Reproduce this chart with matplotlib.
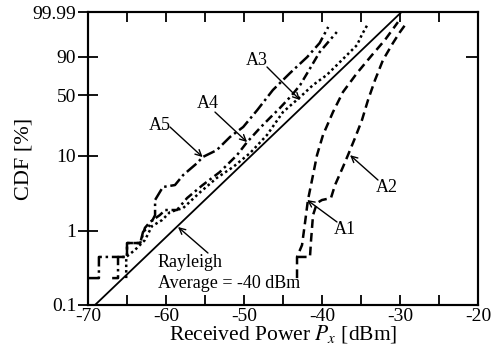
import numpy as np
import matplotlib
matplotlib.use("Agg")
import matplotlib.pyplot as plt
from matplotlib.ticker import FixedLocator, FixedFormatter, NullLocator

plt.rcParams['font.family'] = ['Liberation Serif', 'DejaVu Serif']
plt.rcParams['mathtext.fontset'] = 'stix'
plt.rcParams['axes.unicode_minus'] = False

# ---- data (x: dBm, y: CDF %) ----
rayleigh_x = [-69.1, -29.8]
rayleigh_p = [0.1, 99.99]

a1_x = [-43.2, -43.2, -42.56, -42.18, -41.8, -41.15, -40.64, -39.87, -38.59, -37.31, -35.51, -33.59, -31.92, -30.26]
a1_p = [0.231, 0.446, 0.645, 1.28, 2.6, 5.57, 10.1, 18.1, 33.5, 53.3, 74.7, 91.0, 97.9, 99.88]

a2_x = [-43.1, -41.54, -41.4, -41.15, -40.64, -40.0, -38.85, -38.33, -37.31, -36.67, -35.77, -34.87, -34.1, -33.2, -32.18, -30.9, -30.0, -29.36]
a2_p = [0.446, 0.446, 0.753, 1.63, 2.37, 2.6, 2.76, 4.11, 7.1, 10.1, 16.6, 27.3, 44.7, 66.9, 87.3, 97.0, 99.28, 99.78]

a3_x = [-65.1, -65.1, -64.0, -62.7, -61.8, -60.5, -59.5, -57.8, -55.6, -53.5, -51.4, -49.2, -47.05, -45.0, -42.8, -41.15, -39.4, -37.7, -35.5, -34.9, -34.2]
a3_p = [0.231, 0.446, 0.552, 0.753, 1.16, 1.40, 1.79, 2.03, 3.32, 5.09, 7.1, 10.8, 18.1, 33.5, 47.9, 61.2, 72.5, 85.6, 96.3, 98.9, 99.78]

a4_x = [-66.9, -66.15, -66.15, -65.0, -65.0, -63.3, -62.7, -62.05, -60.8, -60.1, -58.6, -57.3, -55.3, -53.1, -50.9, -49.6, -47.95, -46.7, -45.4, -43.85, -42.8, -41.5, -40.3, -39.2, -38.1]
a4_p = [0.231, 0.231, 0.446, 0.446, 0.687, 0.687, 1.1, 1.32, 1.63, 1.91, 1.91, 2.76, 4.11, 6.1, 10.1, 14.8, 22.0, 28.7, 37.0, 50.0, 61.2, 80.0, 92.9, 97.3, 99.28]

a5_x = [-70.0, -68.6, -68.6, -65.0, -65.0, -63.3, -62.95, -62.05, -61.4, -61.4, -60.4, -58.85, -57.8, -56.0, -55.3, -53.5, -51.8, -50.1, -48.3, -46.3, -44.1, -41.9, -40.3, -39.2]
a5_p = [0.231, 0.231, 0.446, 0.446, 0.687, 0.687, 0.965, 1.20, 1.63, 2.6, 3.87, 4.11, 5.57, 8.0, 9.55, 11.7, 17.1, 22.6, 35.2, 55.5, 74.7, 89.6, 97.0, 99.69]

y_ticks = [0.1, 1, 10, 50, 90, 99.99]
y_tick_labels = ['0.1', '1', '10', '50', '90', '99.99']
x_ticks = [-70, -60, -50, -40, -30, -20]


# Rayleigh paper: log10(-ln(1-p))
def fwd(p):
    p = np.clip(np.asarray(p, dtype=float), 1e-6, 100 - 1e-6)
    return np.log10(-np.log(1 - p / 100.0))


def inv(t):
    return 100.0 * (1 - np.exp(-10 ** np.asarray(t, dtype=float)))


fig = plt.figure(figsize=(4.98, 3.49), dpi=100)
ax = fig.add_axes([0.1767, 0.1261, 0.7831, 0.8395])
ax.set_yscale('function', functions=(fwd, inv))

ax.plot(rayleigh_x, rayleigh_p, color='black', lw=1.3, ls='-')
ax.plot(a1_x, a1_p, color='black', lw=1.8, dashes=(3.5, 2))
ax.plot(a2_x, a2_p, color='black', lw=1.8, dashes=(3.5, 2))
ax.plot(a3_x, a3_p, color='black', lw=1.8, dashes=(1, 1.2))
ax.plot(a4_x, a4_p, color='black', lw=1.8, dashes=(3.5, 1.5, 1, 1.5))
ax.plot(a5_x, a5_p, color='black', lw=1.8, dashes=(5, 1.5, 1, 1.5))

ax.set_xlim(-70, -20)
ax.set_ylim(0.1, 99.99)

ax.xaxis.set_major_locator(FixedLocator(x_ticks))
ax.xaxis.set_minor_locator(FixedLocator([-65, -55, -45, -35, -25]))
ax.yaxis.set_major_locator(FixedLocator(y_ticks))
ax.yaxis.set_major_formatter(FixedFormatter(y_tick_labels))
ax.yaxis.set_minor_locator(NullLocator())

ax.tick_params(axis='x', which='both', direction='in', top=True, length=7, width=1.3,
               labelsize=14, pad=2)
ax.tick_params(axis='y', which='major', direction='inout', length=15, width=1.3,
               labelsize=14, pad=1, right=False)
for s in ax.spines.values():
    s.set_linewidth(1.5)

# right axis: only the 90 % tick, pointing inward
ax2 = ax.twinx()
ax2.set_yscale('function', functions=(fwd, inv))
ax2.set_ylim(0.1, 99.99)
ax2.yaxis.set_major_locator(FixedLocator([90]))
ax2.yaxis.set_minor_locator(NullLocator())
ax2.tick_params(axis='y', direction='in', length=9, width=1.3, labelright=False)
for s in ax2.spines.values():
    s.set_linewidth(1.5)

ax.set_xlabel('Received Power $P_x$ [dBm]', fontsize=15.5, labelpad=-1)
ax.set_ylabel('CDF [%]', fontsize=16, labelpad=-1)

arrow = dict(arrowstyle='->', color='black', lw=1.0, shrinkA=0, shrinkB=0, mutation_scale=11)

ax.annotate('', xy=(-55.3, 9.55), xytext=(-59.49, 22.6), arrowprops=arrow)
ax.text(-60.77, 23.8, 'A5', fontsize=13, ha='center', va='center')
ax.annotate('', xy=(-49.6, 14.8), xytext=(-53.72, 33.5), arrowprops=arrow)
ax.text(-54.62, 41.7, 'A4', fontsize=13, ha='center', va='center')
ax.annotate('', xy=(-42.8, 44.7), xytext=(-47.05, 81.0), arrowprops=arrow)
ax.text(-48.33, 87.3, 'A3', fontsize=13, ha='center', va='center')
ax.annotate('', xy=(-36.4, 10.1), xytext=(-32.82, 4.79), arrowprops=arrow)
ax.text(-31.67, 3.87, 'A2', fontsize=13, ha='center', va='center')
ax.annotate('', xy=(-41.9, 2.6), xytext=(-38.08, 1.32), arrowprops=arrow)
ax.text(-37.05, 1.03, 'A1', fontsize=13, ha='center', va='center')

ax.annotate('', xy=(-58.46, 1.13), xytext=(-54.62, 0.504), arrowprops=arrow)
ax.text(-61.03, 0.37, 'Rayleigh', fontsize=13, ha='left', va='center')
ax.text(-61.03, 0.198, 'Average = -40 dBm', fontsize=13, ha='left', va='center')

fig.savefig('out.png', dpi=100)
